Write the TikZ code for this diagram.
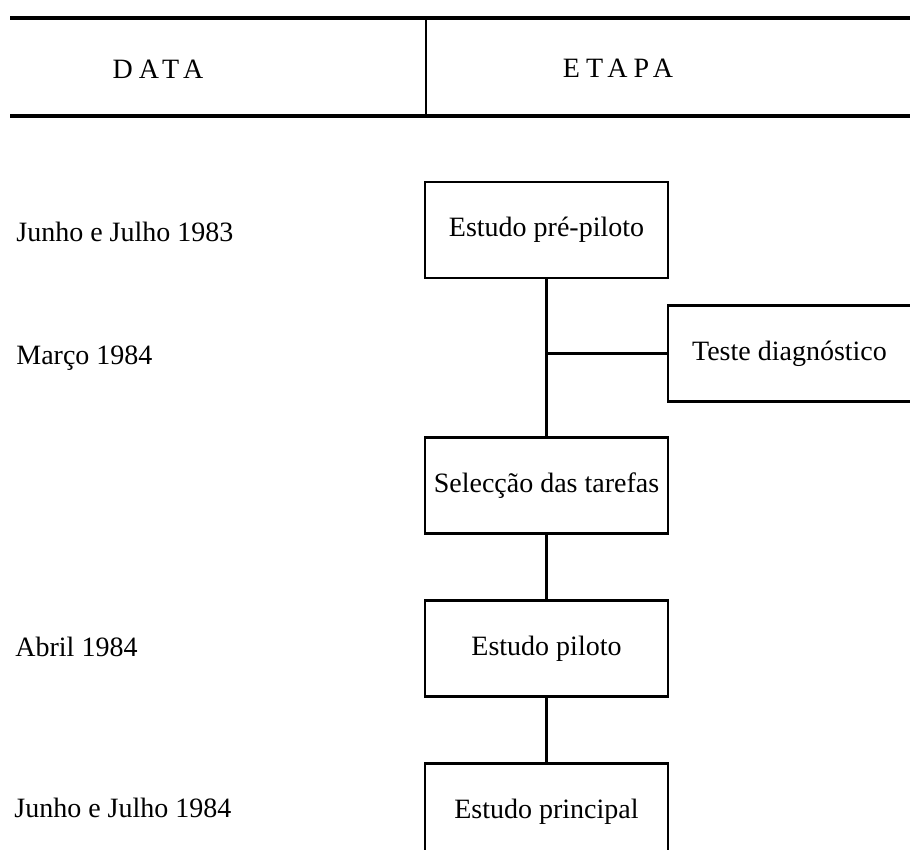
\documentclass[tikz,border=0pt]{standalone}
\usepackage{fontspec}
\setmainfont{Liberation Serif}
\newfontfamily\spacedfont[LetterSpace=22]{Liberation Serif}
\usetikzlibrary{positioning}
\tikzset{stage/.style={draw,line width=1.4pt,minimum width=121.5pt,minimum height=48pt,inner sep=0pt,align=center,font=\fontsize{14}{16}\selectfont},
datelabel/.style={anchor=west,inner sep=0pt,font=\fontsize{14}{16}\selectfont},
headlabel/.style={inner sep=0pt,font=\fontsize{14}{16}\selectfont\spacedfont},
link/.style={line width=1.1pt}
}

\begin{document}
\begin{tikzpicture}[x=1pt,y=1pt]
  \useasboundingbox (0,0) rectangle (455,-425);
  \clip (0,0) rectangle (455,-425);

  % Header
  \draw[line width=1.6pt] (5,-9) -- (455,-9);
  \draw[line width=1.6pt] (5,-58) -- (455,-58);
  \draw[line width=1.1pt] (213,-9) -- (213,-58);
  \node[headlabel] (hdata) at (79,-34.5) {DATA};
  \node[headlabel] (hetapa) at (309,-34) {ETAPA};

  % Stages
  \node[stage] (pre) at (273.25,-115) {Estudo pré-piloto};
  \node[stage, below = 78.5pt of pre] (sel) {Selecção das tarefas};
  \node[stage, below = 32pt of sel] (pil) {Estudo piloto};
  \node[stage, below = 32pt of pil] (pri) {Estudo principal};
  \node[stage] (tst) at (394.75,-176.75) {Teste diagnóstico};

  % Links between stages
  \draw[link] (pre.south) -- (sel.north);
  \draw[link] (sel.south) -- (pil.north);
  \draw[link] (pil.south) -- (pri.north);
  \draw[link] (tst.west) -- (tst.west -| pre.south);

  % Dates
  \node[datelabel] (d1) at (8,-116) {Junho e Julho 1983};
  \node[datelabel] (d2) at (8,-179) {Março 1984};
  \node[datelabel] (d3) at (7.5,-323.5) {Abril 1984};
  \node[datelabel] (d4) at (7,-404) {Junho e Julho 1984};

\end{tikzpicture}
\end{document}
